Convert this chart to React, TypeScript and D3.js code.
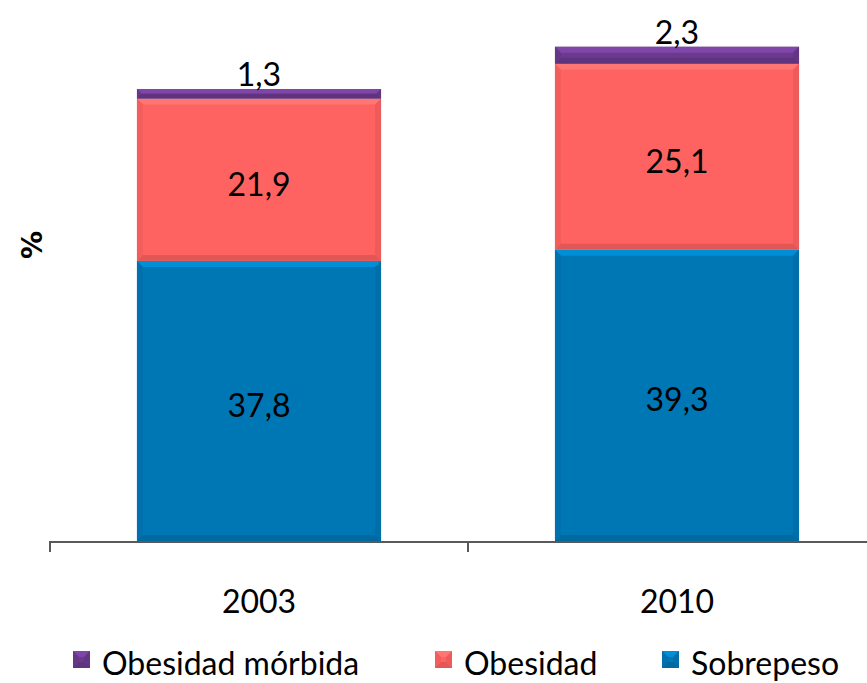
import React from "react";
import * as d3 from "d3";

const width = 867;
const height = 683;

const years = ["2003", "2010"];
const sobrepeso = [37.8, 39.3];
const obesidad = [21.9, 25.1];
const morbida = [1.3, 2.3];

const seriesNames = ["Sobrepeso", "Obesidad", "Obesidad mórbida"];
const colors = ["#0077B5", "#FF6361", "#6B3A8E"];
const legendOrder = ["Obesidad mórbida", "Obesidad", "Sobrepeso"];

const font = "Lato, 'Open Sans', sans-serif";
const baseY = 541;

const x = d3.scaleBand().domain(years).range([50, 886]).paddingInner(0.416).paddingOuter(0.208);
const y = d3.scaleLinear().domain([0, 70]).range([baseY, baseY - 70 * 7.41]);

const rows = years.map((yr, i) => ({ year: yr, Sobrepeso: sobrepeso[i], Obesidad: obesidad[i], "Obesidad mórbida": morbida[i] }));
const stacked = d3.stack<any>().keys(seriesNames)(rows);

// bevelled rect, office style
const Bevel = ({ x0, y0, w, h, color }: { x0: number; y0: number; w: number; h: number; color: string }) => {
  const b = Math.min(6, h / 2);
  const c = d3.color(color)!;
  const light = c.brighter(0.6).formatHex();
  const dark = c.darker(0.6).formatHex();
  const side = c.darker(0.3).formatHex();
  const x1 = x0 + w;
  const y1 = y0 + h;
  return (
    <g>
      <rect x={x0} y={y0} width={w} height={h} fill={color} />
      <polygon points={`${x0},${y0} ${x1},${y0} ${x1 - b},${y0 + b} ${x0 + b},${y0 + b}`} fill={light} opacity={0.8} />
      <polygon points={`${x0},${y1} ${x1},${y1} ${x1 - b},${y1 - b} ${x0 + b},${y1 - b}`} fill={dark} opacity={0.6} />
      <polygon points={`${x0},${y0} ${x0 + b},${y0 + b} ${x0 + b},${y1 - b} ${x0},${y1}`} fill={side} opacity={0.5} />
      <polygon points={`${x1},${y0} ${x1 - b},${y0 + b} ${x1 - b},${y1 - b} ${x1},${y1}`} fill={side} opacity={0.7} />
    </g>
  );
};

export default function App() {
  const bw = x.bandwidth();
  const legendX = [73, 435, 662];
  return (
    <svg width={width} height={height} style={{ position: "absolute", left: 0, top: 0, background: "#fff" }}>
      {stacked.map((s, si) =>
        s.map((d, i) => (
          <Bevel key={`${si}-${i}`} x0={x(years[i])!} y0={y(d[1])} w={bw} h={y(d[0]) - y(d[1])} color={colors[si]} />
        ))
      )}
      {stacked.map((s, si) =>
        s.map((d, i) => {
          const v = d[1] - d[0];
          const cx = x(years[i])! + bw / 2;
          const cy = si === 2 ? y(d[1]) - 3 : (y(d[0]) + y(d[1])) / 2 + 16;
          return (
            <text key={`t${si}-${i}`} x={cx} y={cy} textAnchor="middle" fontFamily={font} fontSize={32} fill="#000">
              {v.toFixed(1).replace(".", ",")}
            </text>
          );
        })
      )}
      <line x1={50} x2={width} y1={baseY + 1} y2={baseY + 1} stroke="#595959" strokeWidth={2} />
      {[50, 468].map((t) => (
        <line key={t} x1={t} x2={t} y1={baseY} y2={baseY + 11} stroke="#595959" strokeWidth={2} />
      ))}
      {years.map((yr) => (
        <text key={yr} x={x(yr)! + bw / 2} y={613} textAnchor="middle" fontFamily={font} fontSize={32} fill="#000">
          {yr}
        </text>
      ))}
      <text transform="translate(42,245) rotate(-90)" textAnchor="middle" fontFamily="'DejaVu Sans', sans-serif" fontSize={28} fontWeight="bold">
        %
      </text>
      {legendOrder.map((name, i) => {
        const ci = seriesNames.indexOf(name);
        return (
          <g key={name}>
            <Bevel x0={legendX[i]} y0={651} w={17} h={17} color={colors[ci]} />
            <text x={legendX[i] + 29} y={675} fontFamily={font} fontSize={32} fill="#000">
              {name}
            </text>
          </g>
        );
      })}
    </svg>
  );
}
